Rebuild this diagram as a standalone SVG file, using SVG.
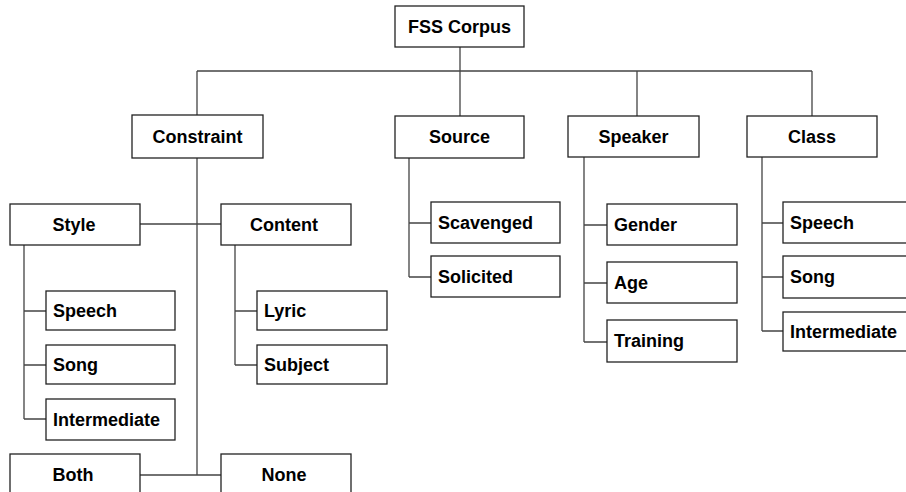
<svg xmlns="http://www.w3.org/2000/svg" width="906" height="492" viewBox="0 0 906 492">
<style>
rect{fill:#fff;stroke:#222;stroke-width:1.3}
text{font-family:"Liberation Sans",Arial,sans-serif;font-weight:bold;font-size:18px;fill:#000}
.c{text-anchor:middle}
#connectors path{fill:none;stroke:#444;stroke-width:1.3}
</style>
<rect x="0" y="0" width="906" height="492" style="fill:#fff;stroke:none"/>
<g id="connectors">
<path d="M460 47V71M197 71H812M197 71V115M460 71V116M637 71V116M812 71V116"/>
<path d="M197 158V475M140 224H221M140 475H221"/>
<path d="M24 245V419M24 311H46M24 365H46M24 419H46"/>
<path d="M235 245V365M235 311H257M235 365H257"/>
<path d="M409 158V277M409 223H431M409 277H431"/>
<path d="M584 157V342M584 225H607M584 283H607M584 342H607"/>
<path d="M762 157V331M762 223H783M762 277H783M762 331H783"/>
</g>
<g id="fss"><rect x="395" y="6" width="129" height="41"/><text class="c" x="459.5" y="33">FSS Corpus</text></g>
<g id="constraint"><rect x="132" y="115" width="131" height="43"/><text class="c" x="197.5" y="143">Constraint</text></g>
<g id="source"><rect x="395" y="116" width="129" height="42"/><text class="c" x="459.5" y="143">Source</text></g>
<g id="speaker"><rect x="568" y="116" width="131" height="41"/><text class="c" x="633.5" y="143">Speaker</text></g>
<g id="class"><rect x="747" y="116" width="130" height="41"/><text class="c" x="812" y="143">Class</text></g>
<g id="style"><rect x="10" y="204" width="130" height="41"/><text class="c" x="74" y="231">Style</text></g>
<g id="content"><rect x="221" y="204" width="130" height="41"/><text class="c" x="284" y="231">Content</text></g>
<g id="style-speech"><rect x="46" y="291" width="129" height="39"/><text x="53" y="317">Speech</text></g>
<g id="style-song"><rect x="46" y="345" width="129" height="39"/><text x="53" y="371">Song</text></g>
<g id="style-intermediate"><rect x="46" y="399" width="129" height="41"/><text x="53" y="426">Intermediate</text></g>
<g id="lyric"><rect x="257" y="291" width="130" height="39"/><text x="264" y="317">Lyric</text></g>
<g id="subject"><rect x="257" y="345" width="130" height="39"/><text x="264" y="371">Subject</text></g>
<g id="both"><rect x="10" y="454" width="130" height="50"/><text class="c" x="73" y="481">Both</text></g>
<g id="none"><rect x="221" y="454" width="130" height="50"/><text class="c" x="284" y="481">None</text></g>
<g id="scavenged"><rect x="431" y="202" width="129" height="41"/><text x="438" y="229">Scavenged</text></g>
<g id="solicited"><rect x="431" y="256" width="129" height="41"/><text x="438" y="283">Solicited</text></g>
<g id="gender"><rect x="607" y="204" width="130" height="41"/><text x="614" y="231">Gender</text></g>
<g id="age"><rect x="607" y="262" width="130" height="41"/><text x="614" y="289">Age</text></g>
<g id="training"><rect x="607" y="320" width="130" height="42"/><text x="614" y="347">Training</text></g>
<g id="class-speech"><rect x="783" y="202" width="130" height="41"/><text x="790" y="229">Speech</text></g>
<g id="class-song"><rect x="783" y="256" width="130" height="42"/><text x="790" y="283">Song</text></g>
<g id="class-intermediate"><rect x="783" y="312" width="130" height="39"/><text x="790" y="338">Intermediate</text></g>
</svg>
